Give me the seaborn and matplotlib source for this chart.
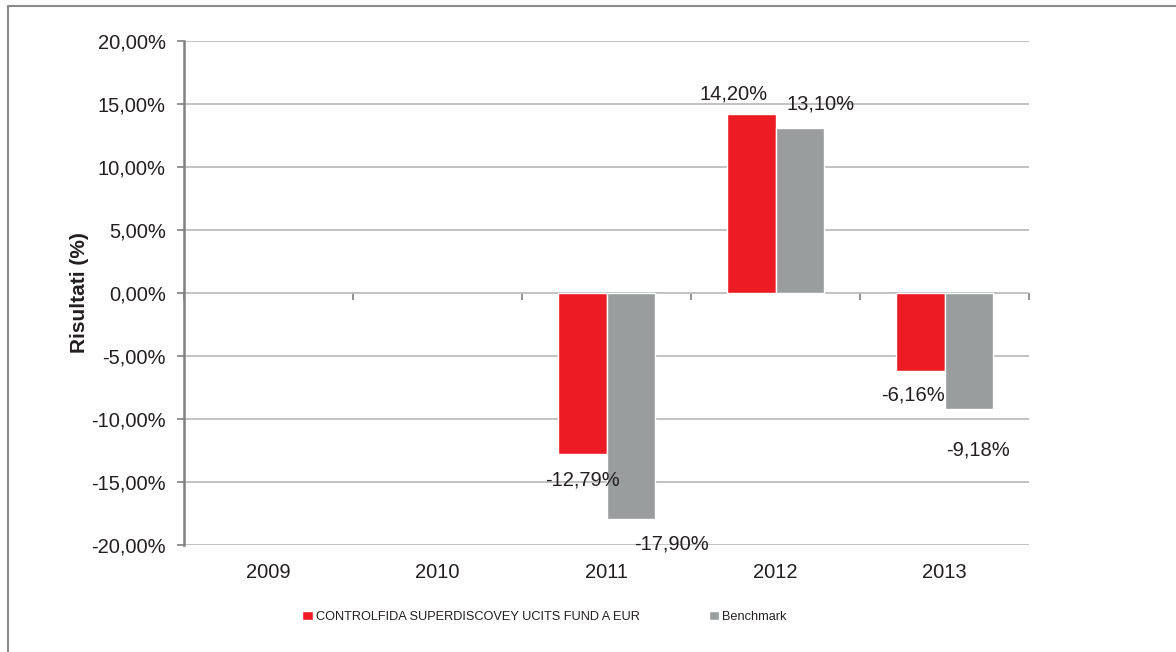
import pandas as pd
import numpy as np
import matplotlib
matplotlib.use("Agg")
import matplotlib.pyplot as plt
from matplotlib.lines import Line2D
from matplotlib.ticker import FuncFormatter
import seaborn as sns

years = ["2009", "2010", "2011", "2012", "2013"]
fund = [np.nan, np.nan, -12.79, 14.20, -6.16]
bench = [np.nan, np.nan, -17.90, 13.10, -9.18]
series = ["CONTROLFIDA SUPERDISCOVEY UCITS FUND A EUR", "Benchmark"]
colors = ["#ED1C24", "#9A9D9E"]

df = pd.DataFrame({
    "year": years * 2,
    "value": fund + bench,
    "serie": [series[0]] * len(years) + [series[1]] * len(years),
})

sns.set_style("white")
plt.rcParams["font.family"] = ["Liberation Sans", "DejaVu Sans"]
txt = "#231F20"

fig = plt.figure(figsize=(11.76, 6.52), dpi=100)
ax = fig.add_axes([0.1565, 0.1641, 0.875 - 0.1565, 0.9371 - 0.1641])

sns.barplot(data=df, x="year", y="value", hue="serie", order=years,
            hue_order=series, palette=colors, width=0.57, saturation=1,
            ax=ax, legend=True)

ax.set_ylim(-20, 20)
ax.set_xlim(-0.5, len(years) - 0.5)
ax.set_yticks(np.arange(-20, 21, 5))
ax.yaxis.set_major_formatter(FuncFormatter(lambda v, p: f"{v:.2f}".replace(".", ",") + "%"))
ax.yaxis.grid(True, color="#BDBDBD", lw=1.3)
ax.set_axisbelow(True)
for s in ["top", "right", "bottom"]:
    ax.spines[s].set_visible(False)
ax.spines["left"].set_color("#7F8080")
ax.spines["left"].set_linewidth(1.8)
ax.tick_params(axis="y", length=5, width=1.2, color="#7F8080", pad=8,
               labelsize=14.5, labelcolor=txt, left=True)
ax.tick_params(axis="x", length=0, pad=13, labelsize=14.5, labelcolor=txt)
ax.set_xlabel("")
ax.set_ylabel("Risultati (%)", fontsize=15, fontweight="bold", color=txt, labelpad=2)

# zero line with category separators
sec = ax.secondary_xaxis(0.5)
sec.set_xticks(np.arange(-0.5, len(years), 1.0))
sec.set_xticklabels([])
sec.xaxis.set_ticks_position("bottom")
sec.tick_params(axis="x", length=5, width=1.2, color="#7F8080", direction="out",
                labelbottom=False, labeltop=False)
sec.spines["bottom"].set_color("#7F8080")
sec.spines["bottom"].set_linewidth(2)
sec.spines["top"].set_visible(False)

# value labels, offsets in pixels as in the original layout
offsets = {
    (0, "2011"): (0, -26), (1, "2011"): (41, -25),
    (0, "2012"): (-18, 20), (1, "2012"): (21, 24),
    (0, "2013"): (-7, -24), (1, "2013"): (9, -41),
}
for k, cont in enumerate(ax.containers):
    for bar in cont:
        h = bar.get_height()
        if np.isnan(h) or h == 0:
            continue
        xc = bar.get_x() + bar.get_width() / 2
        yr = years[int(round(xc))]
        dx, dy = offsets.get((k, yr), (0, 0))
        lab = f"{h:.2f}".replace(".", ",") + "%"
        ax.annotate(lab, (xc, h), xytext=(dx * 0.72, dy * 0.72),
                    textcoords="offset points", ha="center", va="center",
                    fontsize=14.5, color=txt)

handles, labels = ax.get_legend_handles_labels()
ax.get_legend().remove()
fig.legend(handles, labels, loc="center", bbox_to_anchor=(0.463, 0.054), ncol=2,
           frameon=False, fontsize=9.2, handlelength=0.8, handleheight=0.8,
           handletextpad=0.25, columnspacing=5.4, labelcolor=txt)

# outer frame (left and top edges)
fig.add_artist(Line2D([8 / 1176, 8 / 1176], [0, 1 - 6 / 652], color="#8A8A8A", lw=1.5,
                      transform=fig.transFigure))
fig.add_artist(Line2D([8 / 1176, 1], [1 - 6 / 652, 1 - 6 / 652], color="#8A8A8A", lw=1.5,
                      transform=fig.transFigure))

fig.savefig("out.png", dpi=100)
